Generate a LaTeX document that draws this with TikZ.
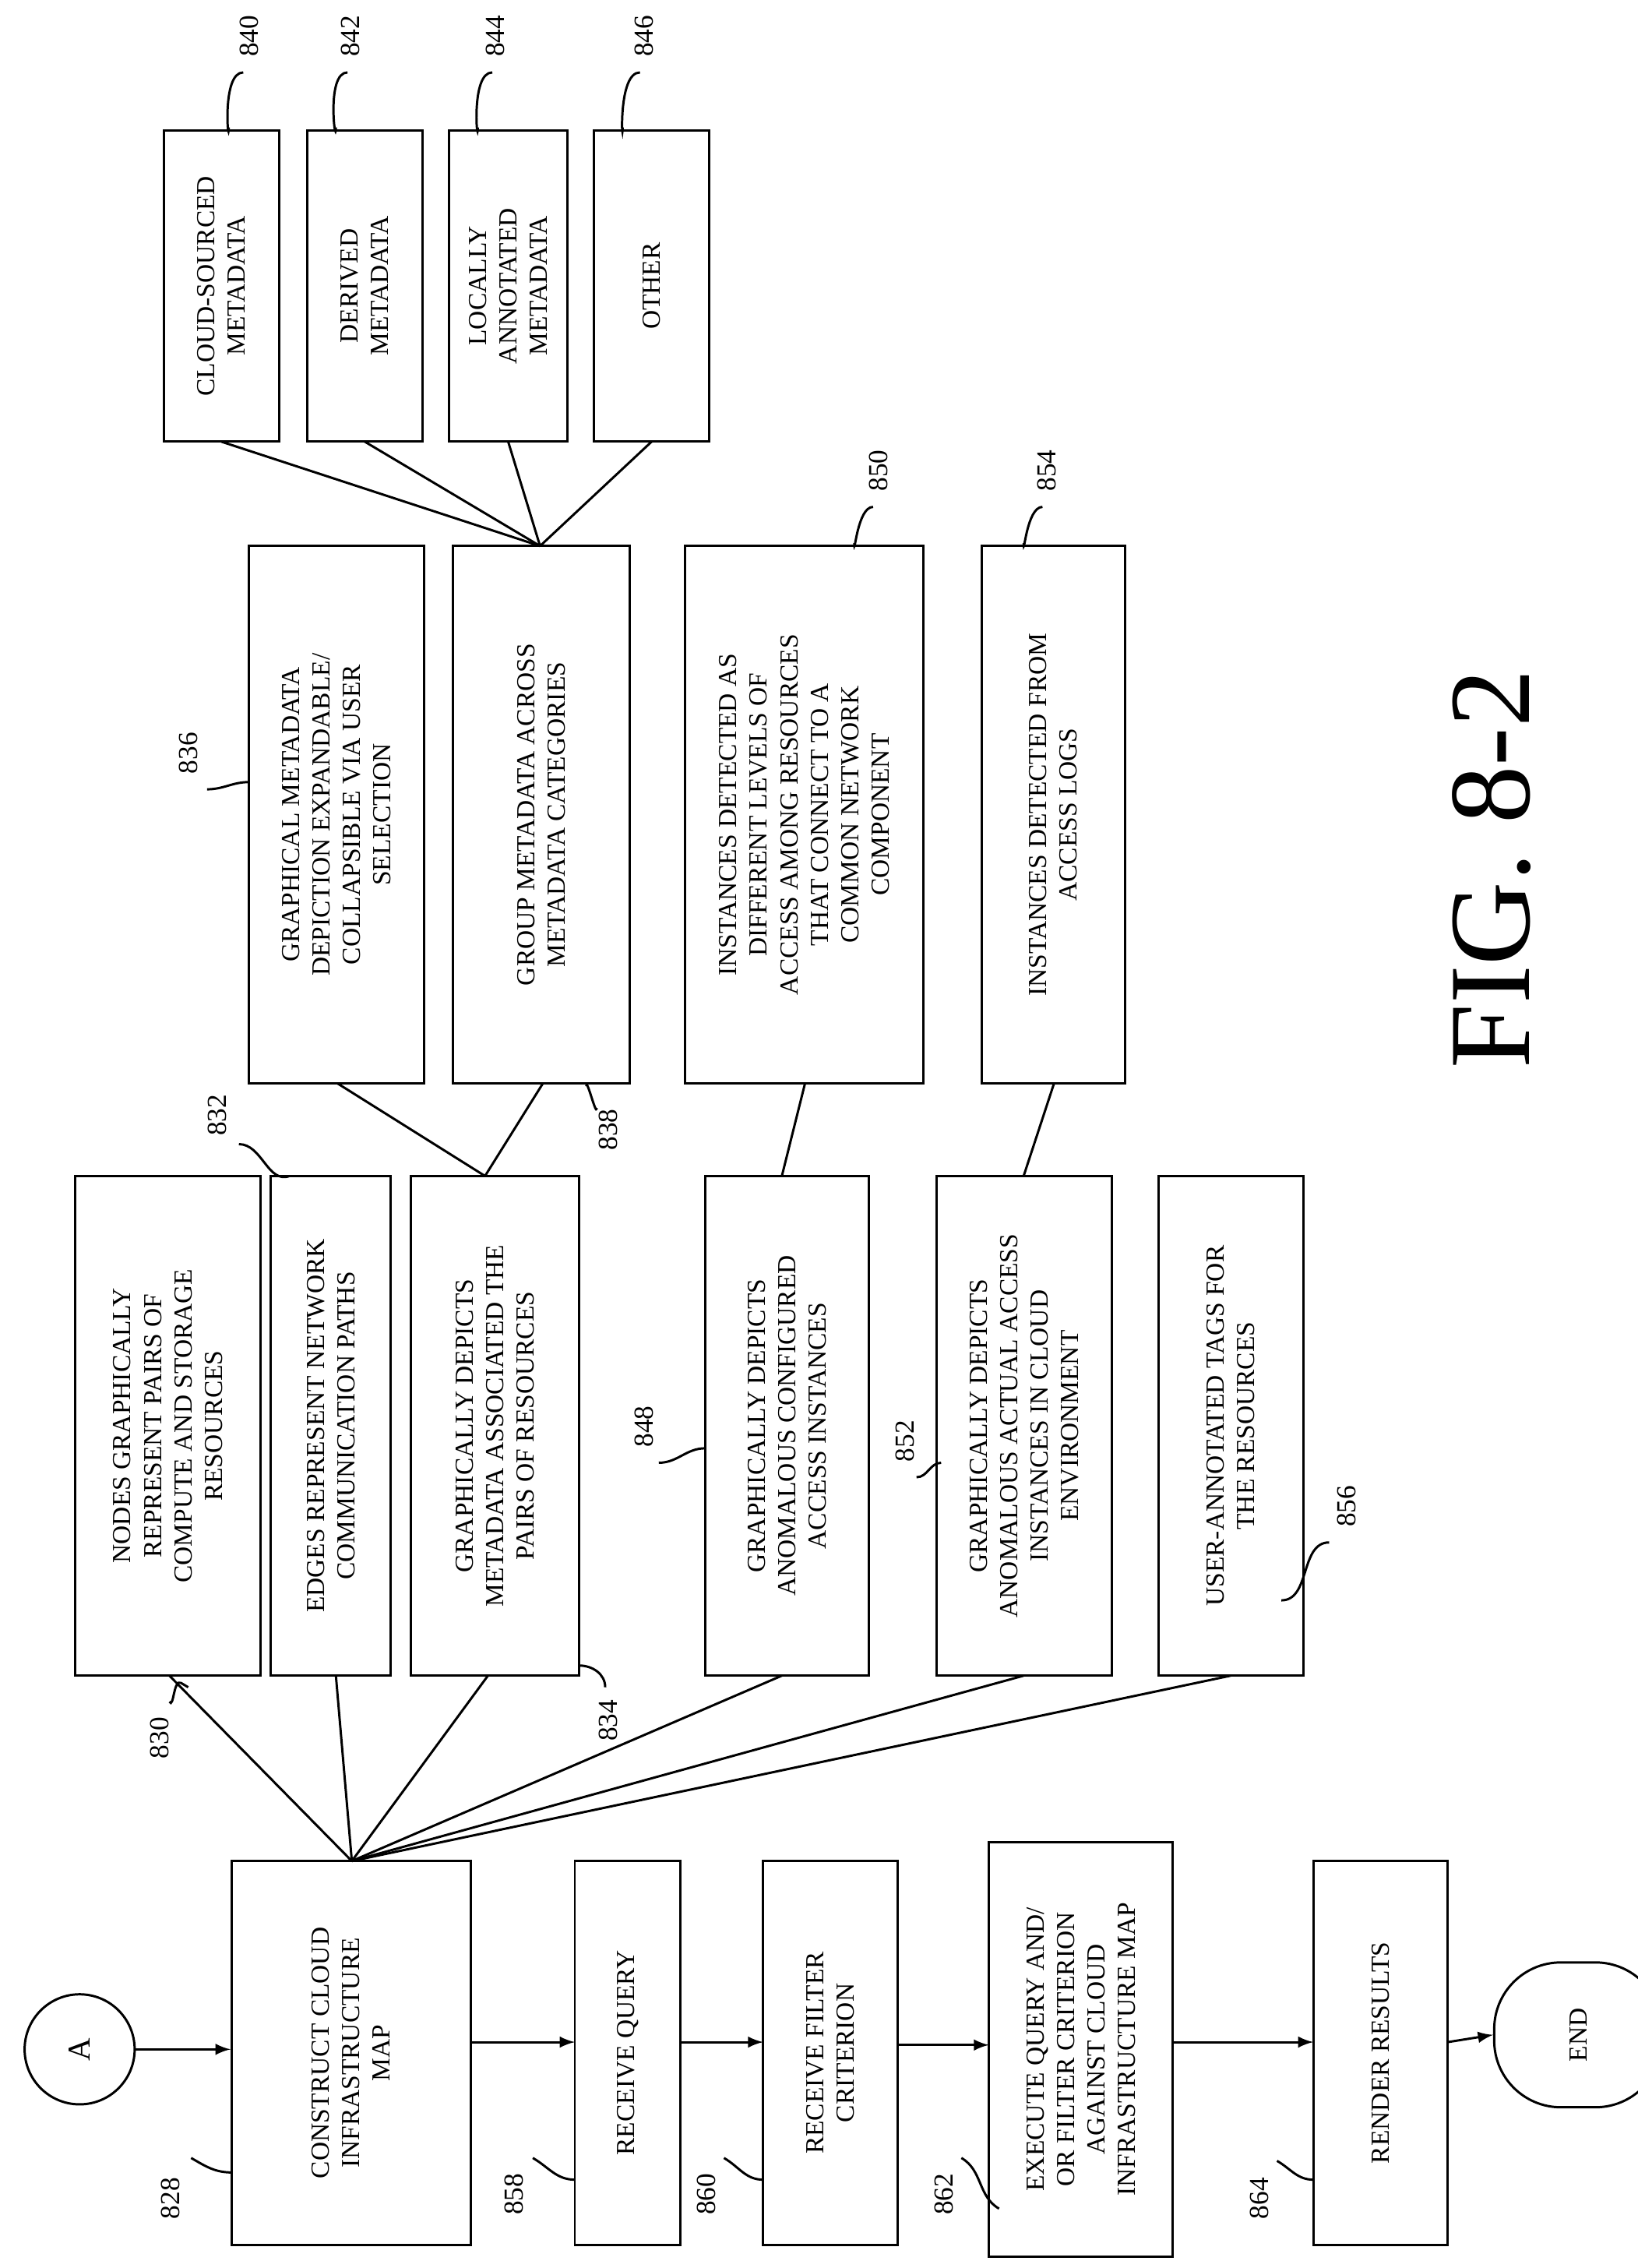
\documentclass[tikz,border=0pt]{standalone}
\usepackage{fontspec}
\setmainfont{Liberation Serif}
\begin{document}
\begin{tikzpicture}[x=0.5pt,y=-0.5pt,line width=0.8pt,
  bx/.style={draw,rotate=90,align=center,font=\fontsize{9}{10.5}\selectfont,inner sep=2pt},
  lbl/.style={rotate=90,font=\fontsize{9.5}{11}\selectfont,inner sep=1pt},
  ar/.style={-latex}]
\useasboundingbox (0,0) rectangle (1131,1566);
\fill[white] (0,0) rectangle (1131,1566);
\newcommand{\bb}[6]{\node[bx,minimum width={(#5-#3)*0.5pt},minimum height={(#4-#2)*0.5pt}] (#1) at ({(#2+#4)/2},{(#3+#5)/2}) {#6};}
\node[draw,circle,minimum size=38pt,inner sep=0pt,rotate=90,font=\fontsize{11}{12}\selectfont] (A) at (55,1415) {A};
\bb{b828}{160}{1285}{325}{1550}{CONSTRUCT CLOUD\\INFRASTRUCTURE\\MAP}
\bb{b858}{397}{1285}{470}{1550}{RECEIVE QUERY}
\bb{b860}{527}{1285}{620}{1550}{RECEIVE FILTER\\CRITERION}
\bb{b862}{683}{1272}{810}{1558}{EXECUTE QUERY AND/\\OR FILTER CRITERION\\AGAINST CLOUD\\INFRASTRUCTURE MAP}
\bb{b864}{907}{1285}{1000}{1550}{RENDER RESULTS}
\node[draw,rounded corners=23pt,rotate=90,minimum width=50pt,minimum height=58pt,font=\fontsize{9}{10}\selectfont] (end) at (1090,1405) {END};
\bb{b830}{52}{812}{180}{1157}{NODES GRAPHICALLY\\REPRESENT PAIRS OF\\COMPUTE AND STORAGE\\RESOURCES}
\bb{b832}{187}{812}{270}{1157}{EDGES REPRESENT NETWORK\\COMMUNICATION PATHS}
\bb{b834}{284}{812}{400}{1157}{GRAPHICALLY DEPICTS\\METADATA ASSOCIATED THE\\PAIRS OF RESOURCES}
\bb{b848}{487}{812}{600}{1157}{GRAPHICALLY DEPICTS\\ANOMALOUS CONFIGURED\\ACCESS INSTANCES}
\bb{b852}{647}{812}{768}{1157}{GRAPHICALLY DEPICTS\\ANOMALOUS ACTUAL ACCESS\\INSTANCES IN CLOUD\\ENVIRONMENT}
\bb{b856}{800}{812}{900}{1157}{USER-ANNOTATED TAGS FOR\\THE RESOURCES}
\bb{b836}{172}{377}{293}{748}{GRAPHICAL METADATA\\DEPICTION EXPANDABLE/\\COLLAPSIBLE VIA USER\\SELECTION}
\bb{b838}{313}{377}{435}{748}{GROUP METADATA ACROSS\\METADATA CATEGORIES}
\bb{b840}{113}{90}{193}{305}{CLOUD-SOURCED\\METADATA}
\bb{b842}{212}{90}{292}{305}{DERIVED\\METADATA}
\bb{b844}{310}{90}{392}{305}{LOCALLY\\ANNOTATED\\METADATA}
\bb{b846}{410}{90}{490}{305}{OTHER}
\bb{b850}{473}{377}{638}{748}{INSTANCES DETECTED AS\\DIFFERENT LEVELS OF\\ACCESS AMONG RESOURCES\\THAT CONNECT TO A\\COMMON NETWORK\\COMPONENT}
\bb{b854}{678}{377}{777}{748}{INSTANCES DETECTED FROM\\ACCESS LOGS}
% flow arrows
\draw[ar] (A.south) -- (A.south -| b828.north);
\draw[ar] (325,1410) -- (397,1410);
\draw[ar] (470,1410) -- (527,1410);
\draw[ar] (620,1412) -- (683,1412);
\draw[ar] (810,1410) -- (907,1410);
\draw[ar] (1000,1410) -- (end.north);
% fan lines
\coordinate (h1) at (243,1285);
\foreach \b/\x in {b830/117,b832/232,b834/337,b848/540,b852/707,b856/850}
  \draw (h1) -- (\x,1157);
\coordinate (h2) at (335,812);
\draw (h2) -- (233,748); \draw (h2) -- (375,748);
\coordinate (h3) at (373,377);
\foreach \x in {153,252,351,450} \draw (h3) -- (\x,305);
\draw (540,812) -- (556,748);
\draw (707,812) -- (728,748);
% labels
\node[lbl] (l828) at (118,1518) {828};
\draw (132,1490) to[out=-30,in=180] (160,1500);
\node[lbl] (l858) at (355,1515) {858};
\draw (368,1490) to[out=-30,in=180] (397,1505);
\node[lbl] (l860) at (488,1515) {860};
\draw (500,1490) to[out=-30,in=180] (527,1505);
\node[lbl] (l862) at (652,1515) {862};
\draw (664,1490) to[out=-30,in=150] (690,1525);
\node[lbl] (l864) at (870,1518) {864};
\draw (882,1492) to[out=-30,in=180] (907,1505);
\node[lbl] (l830) at (110,1200) {830};
\draw (117,1175) to[out=-60,in=150] (125,1162) -- (130,1165);
\node[lbl] (l832) at (150,770) {832};
\draw (165,790) to[out=0,in=200] (200,812);
\node[lbl] (l834) at (420,1188) {834};
\draw (418,1165) to[out=90,in=0] (400,1150);
\node[lbl] (l836) at (130,520) {836};
\draw (143,545) to[out=0,in=180] (172,540);
\node[lbl] (l838) at (420,780) {838};
\draw (412,765) to[out=-90,in=90] (405,750);
\node[lbl] (l840) at (172,25) {840};
\draw (158,88) to[out=-90,in=180] (168,50);
\node[lbl] (l842) at (242,25) {842};
\draw (232,88) to[out=-90,in=180] (240,50);
\node[lbl] (l844) at (342,25) {844};
\draw (330,88) to[out=-90,in=180] (340,50);
\node[lbl] (l846) at (445,25) {846};
\draw (430,88) to[out=-90,in=180] (442,50);
\node[lbl] (l848) at (445,985) {848};
\draw (455,1010) to[out=0,in=180] (487,1000);
\node[lbl] (l850) at (607,325) {850};
\draw (590,375) to[out=-90,in=180] (603,350);
\node[lbl] (l852) at (625,995) {852};
\draw (633,1020) to[out=0,in=180] (650,1010);
\node[lbl] (l854) at (723,325) {854};
\draw (707,375) to[out=-90,in=180] (720,350);
\node[lbl] (l856) at (930,1040) {856};
\draw (918,1065) to[out=180,in=0] (885,1105);
\node[rotate=90,font=\fontsize{40}{44}\selectfont] (fig) at (1030,600) {FIG. 8-2};
\end{tikzpicture}
\end{document}
